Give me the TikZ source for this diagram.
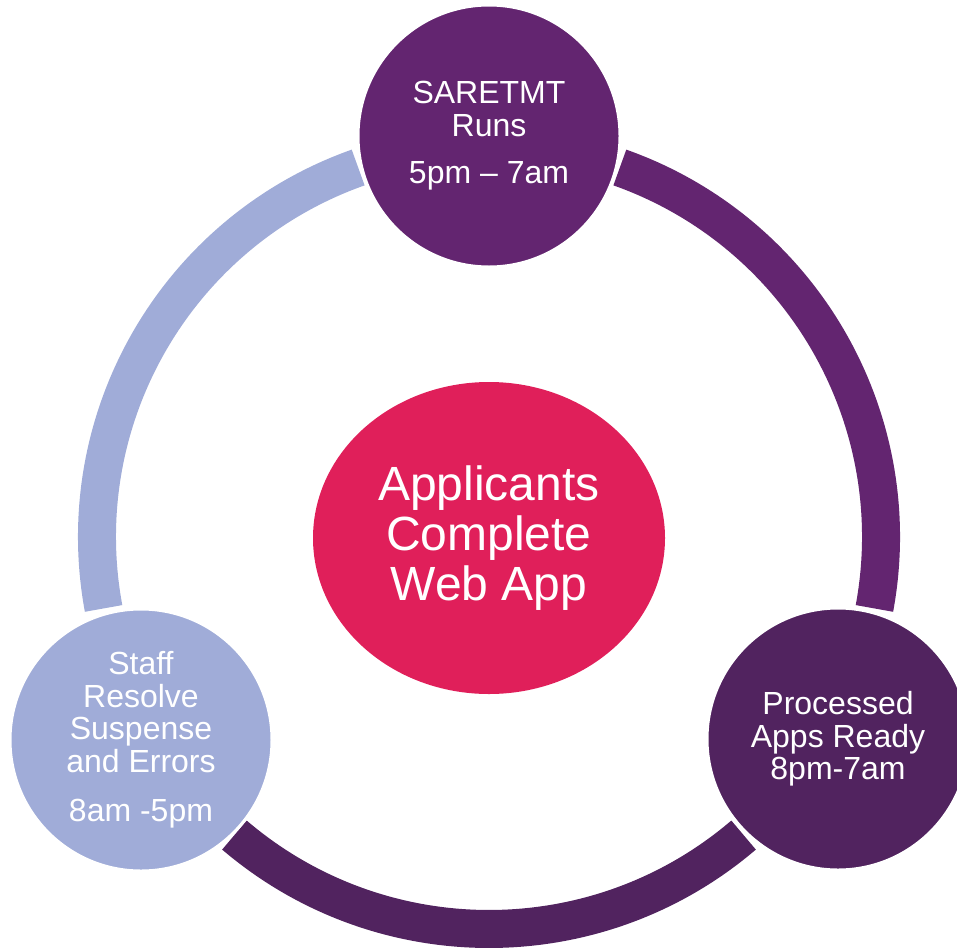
\documentclass[tikz,border=0pt]{standalone}
\usepackage{fontspec}
\setmainfont{Liberation Sans}
\usetikzlibrary{shapes.geometric}
\definecolor{topc}{HTML}{632570}
\definecolor{darkc}{HTML}{51235F}
\definecolor{lightc}{HTML}{A0ACD8}
\definecolor{pinkc}{HTML}{E01F5A}
\tikzset{
  ring/.style={line width=38pt, line cap=butt},
  stage/.style={circle, minimum size=262pt, inner sep=0pt, draw=white, line width=3pt,
    text=white, align=center, font=\fontsize{32}{32.5}\selectfont},
  hub/.style={ellipse, minimum width=352pt, minimum height=312pt, inner sep=0pt,
    fill=pinkc, text=white, align=center, font=\fontsize{48}{50}\selectfont}
}
\begin{document}
\begin{tikzpicture}[x=1pt,y=1pt]
\useasboundingbox (0,0) rectangle (957,-950);
\coordinate (ring) at (489,-537);
% ring segments
\draw[ring, lightc] ([shift={(109.5:392)}]ring) arc[start angle=109.5, end angle=190.5, radius=392];
\draw[ring, topc] ([shift={(70.5:392)}]ring) arc[start angle=70.5, end angle=-10.5, radius=392];
\draw[ring, darkc] ([shift={(-49.5:392)}]ring) arc[start angle=-49.5, end angle=-130.5, radius=392];
% stages
\node[stage, fill=topc] (top) at (489,-136) {SARETMT\\Runs\\[15pt]5pm -- 7am};
\node[stage, fill=darkc] (right) at (838,-739) {Processed\\Apps Ready\\8pm-7am};
\node[stage, fill=lightc] (left) at (141,-740) {Staff\\Resolve\\Suspense\\and Errors\\[17pt]8am -5pm};
\node[hub] (center) at (489,-538) {Applicants\\Complete\\Web App};
\end{tikzpicture}
\end{document}
